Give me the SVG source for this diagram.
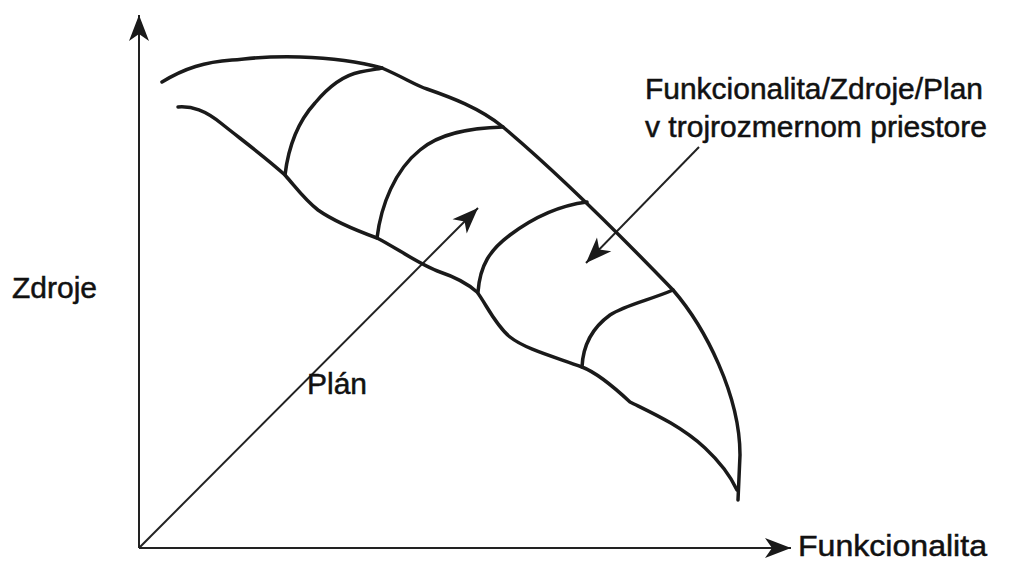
<svg xmlns="http://www.w3.org/2000/svg" width="1016" height="561" viewBox="0 0 1016 561">
  <style>
    .ax { stroke: #222; stroke-width: 2; fill: none; }
    .cv { stroke: #1a1a1a; stroke-width: 3.5; fill: none; stroke-linecap: round; stroke-linejoin: round; }
    .t { font-family: "Liberation Sans", Arial, Helvetica, sans-serif; font-size: 30px; fill: #111; stroke: #111; stroke-width: 0.5; }
  </style>
  <defs>
    <marker id="ah" viewBox="-27 -12 29 24" markerWidth="29" markerHeight="24" refX="0" refY="0" orient="auto" markerUnits="userSpaceOnUse">
      <path d="M0,0 L-26,-10 L-19,0 L-26,10 Z" fill="#1a1a1a"/>
    </marker>
  </defs>
  <rect width="1016" height="561" fill="#fff"/>

  <g id="connectors">
    <line class="ax" x1="139" y1="548" x2="139" y2="15" marker-end="url(#ah)"/>
    <line class="ax" x1="139" y1="548" x2="791" y2="548" marker-end="url(#ah)"/>
    <line class="ax" x1="139" y1="548" x2="478" y2="208" marker-end="url(#ah)"/>
    <line class="ax" x1="699" y1="147" x2="586" y2="263" marker-end="url(#ah)"/>
  </g>

  <g id="surface">
    <path class="cv" d="M162,82 C185,68 205,62 232,60 C255,58 265,56 300,57 C330,58 360,62 382,68 C405,78 415,85 427,89 C450,97 480,108 503,127 C560,175 620,235 673,290 C705,327 740,395 740,455 L738,500"/>
    <path class="cv" d="M178,107 C192,106 205,110 222,124 C242,140 265,157 285,175 C298,190 305,200 318,210 C335,222 355,230 377,238 C395,247 420,265 440,272 C455,277 468,284 477,292 C485,302 495,325 510,337 C525,349 555,357 582,367 C595,372 615,388 630,402 C650,412 680,425 705,448 C720,462 730,475 737,490"/>
    <path class="cv" d="M285,175 C288,150 295,125 315,103 C330,85 345,75 360,72 C370,70 378,69 382,68"/>
    <path class="cv" d="M377,238 C381,205 395,170 420,150 C440,133 470,128 503,127"/>
    <path class="cv" d="M478,292 C480,265 490,250 510,235 C530,220 555,206 587,202"/>
    <path class="cv" d="M582,367 C583,345 592,328 610,315 C625,305 650,300 673,290"/>
  </g>

  <g id="labels">
    <text class="t" x="12" y="298">Zdroje</text>
    <text class="t" x="307" y="394">Plán</text>
    <text class="t" x="798" y="556" textLength="189" lengthAdjust="spacingAndGlyphs">Funkcionalita</text>
    <text class="t" x="645" y="99" textLength="338" lengthAdjust="spacingAndGlyphs">Funkcionalita/Zdroje/Plan</text>
    <text class="t" x="645" y="137" textLength="342" lengthAdjust="spacingAndGlyphs">v trojrozmernom priestore</text>
  </g>
</svg>
